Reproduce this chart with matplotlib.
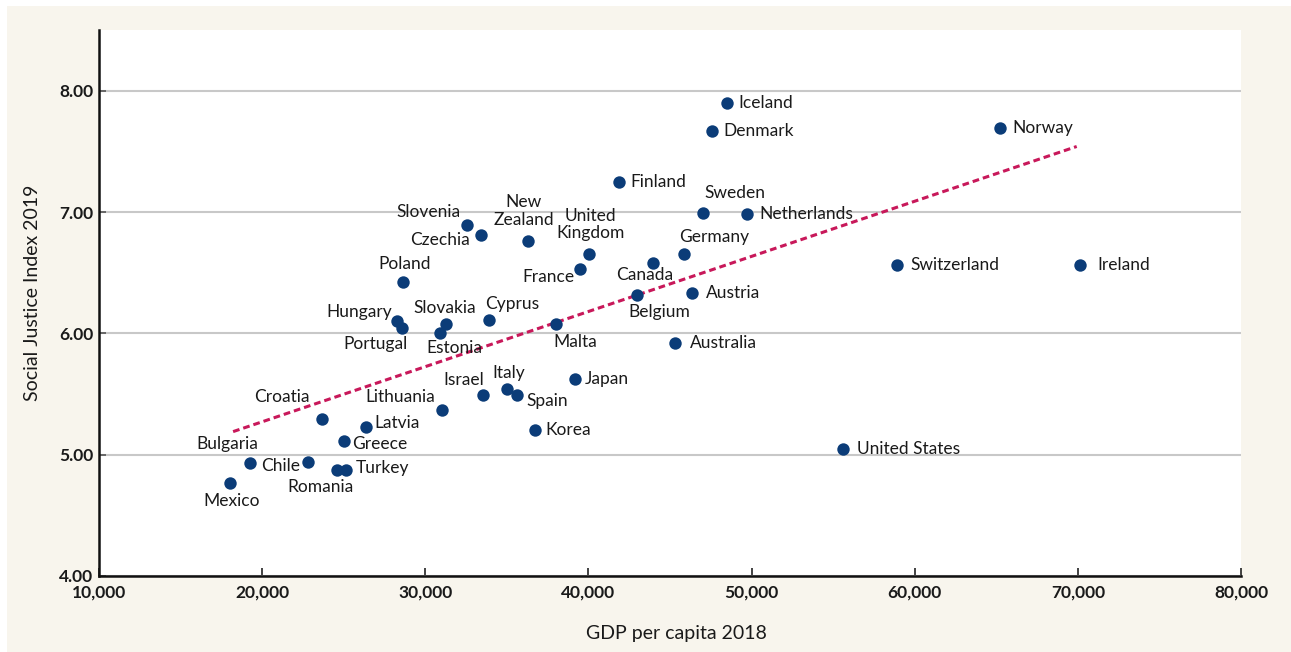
import matplotlib
matplotlib.use("Agg")
import matplotlib.pyplot as plt
from matplotlib.patches import Rectangle
from matplotlib.ticker import FuncFormatter

plt.rcParams['font.family'] = ['Lato', 'DejaVu Sans']

# data
countries = ["Iceland", "Denmark", "Norway", "Finland", "Sweden", "Netherlands",
             "Slovenia", "Czechia", "New\nZealand", "United\nKingdom", "Germany",
             "Canada", "France", "Switzerland", "Ireland", "Poland", "Belgium",
             "Austria", "Hungary", "Portugal", "Slovakia", "Estonia", "Cyprus",
             "Malta", "Australia", "Japan", "Israel", "Italy", "Spain", "Korea",
             "Lithuania", "Croatia", "Latvia", "Greece", "Bulgaria", "Chile",
             "Romania", "Turkey", "Mexico", "United States"]
gdp = [48470, 47550, 65220, 41860, 47030, 49690,
       32560, 33400, 36270, 40020, 45830,
       43970, 39470, 58910, 70130, 28640, 42990,
       46360, 28270, 28600, 31260, 30890, 33910,
       38000, 45300, 39180, 33540, 34980, 35630, 36710,
       31030, 23640, 26390, 25020, 19240, 22810,
       24560, 25170, 18010, 55580]
sji = [7.90, 7.67, 7.69, 7.25, 6.99, 6.98,
       6.89, 6.81, 6.76, 6.65, 6.65,
       6.58, 6.53, 6.56, 6.56, 6.42, 6.32,
       6.33, 6.10, 6.04, 6.08, 6.00, 6.11,
       6.08, 5.92, 5.62, 5.49, 5.54, 5.49, 5.20,
       5.37, 5.29, 5.23, 5.11, 4.93, 4.94,
       4.87, 4.87, 4.77, 5.05]

trend_x = [18220, 69930]
trend_y = [5.19, 7.54]

# label placement (pixel offset from dot, horizontal alignment)
offsets = {
    "Iceland": (12, 0, "left"), "Denmark": (12, 0, "left"), "Norway": (13, 0, "left"),
    "Finland": (12, 0, "left"), "Sweden": (1, 20, "left"), "Netherlands": (13, 0, "left"),
    "Slovenia": (-7, 13, "right"), "Czechia": (-11, -5, "right"),
    "New\nZealand": (-4, 30, "center"), "United\nKingdom": (2, 30, "center"),
    "Germany": (-4, 17, "left"), "Canada": (-9, -12, "center"), "France": (-5, -8, "right"),
    "Switzerland": (13, 0, "left"), "Ireland": (17, 0, "left"), "Poland": (2, 18, "center"),
    "Belgium": (-9, -17, "left"), "Austria": (14, 0, "left"), "Hungary": (-5, 9, "right"),
    "Portugal": (5, -16, "right"), "Slovakia": (-1, 16, "center"), "Estonia": (-13, -15, "left"),
    "Cyprus": (-4, 16, "left"), "Malta": (-2, -18, "left"), "Australia": (15, 0, "left"),
    "Japan": (10, 0, "left"), "Israel": (1, 15, "right"), "Italy": (2, 16, "center"),
    "Spain": (9, -6, "left"), "Korea": (11, 0, "left"), "Lithuania": (-7, 13, "right"),
    "Croatia": (-12, 22, "right"), "Latvia": (8, 4, "left"), "Greece": (8, -3, "left"),
    "Bulgaria": (9, 19, "right"), "Chile": (-8, -4, "right"), "Romania": (-16, -17, "center"),
    "Turkey": (9, 2, "left"), "Mexico": (2, -18, "center"), "United States": (14, 0, "left"),
}

fig = plt.figure(figsize=(12.91, 6.52), dpi=100)
fig.patch.set_facecolor("white")
fig.add_artist(Rectangle((7 / 1291, 0), 1, 1 - 6 / 652, transform=fig.transFigure,
                         facecolor="#f8f5ed", edgecolor="none", zorder=-1))

ax = fig.add_axes([99 / 1291, 76 / 652, 1142 / 1291, 546 / 652])
ax.set_facecolor("white")

ax.scatter(gdp, sji, s=80, color="#0b3c78", zorder=3, linewidths=0)
ax.plot(trend_x, trend_y, color="#c8185a", lw=2.2, ls=(0, (2.2, 1.3)), zorder=2)

for name, x, y in zip(countries, gdp, sji):
    dx, dy, ha = offsets[name]
    ax.annotate(name, (x, y), xytext=(dx, dy), textcoords="offset pixels",
                ha=ha, va="center", fontsize=12.5, color="#1a1a1a",
                linespacing=1.1, zorder=4)

ax.set_xlim(10000, 80000)
ax.set_ylim(4, 8.5)
ax.set_xticks(range(10000, 80001, 10000))
ax.set_yticks([4, 5, 6, 7, 8])
ax.xaxis.set_major_formatter(FuncFormatter(lambda v, p: f"{int(v):,}"))
ax.yaxis.set_major_formatter(FuncFormatter(lambda v, p: f"{v:.2f}"))

for lab in ax.get_xticklabels() + ax.get_yticklabels():
    lab.set_fontweight("bold")
ax.tick_params(axis="x", direction="in", length=6, width=1.2, color="#222222",
               labelsize=12.5, pad=6, labelcolor="#1a1a1a")
ax.tick_params(axis="y", direction="in", length=5, width=1.2, color="#555555",
               labelsize=12.5, pad=4, labelcolor="#1a1a1a")

ax.grid(axis="y", color="#c8c8c8", lw=1.5)
ax.set_axisbelow(True)

for side in ["top", "right"]:
    ax.spines[side].set_visible(False)
for side in ["left", "bottom"]:
    ax.spines[side].set_linewidth(1.8)
    ax.spines[side].set_color("#111111")

ax.set_xlabel("GDP per capita 2018", fontsize=14, color="#1a1a1a")
ax.xaxis.set_label_coords(0.506, -0.09)
ax.set_ylabel("Social Justice Index 2019", fontsize=14, color="#1a1a1a")
ax.yaxis.set_label_coords(-0.051, 0.518)

fig.savefig("out.png", dpi=100)
